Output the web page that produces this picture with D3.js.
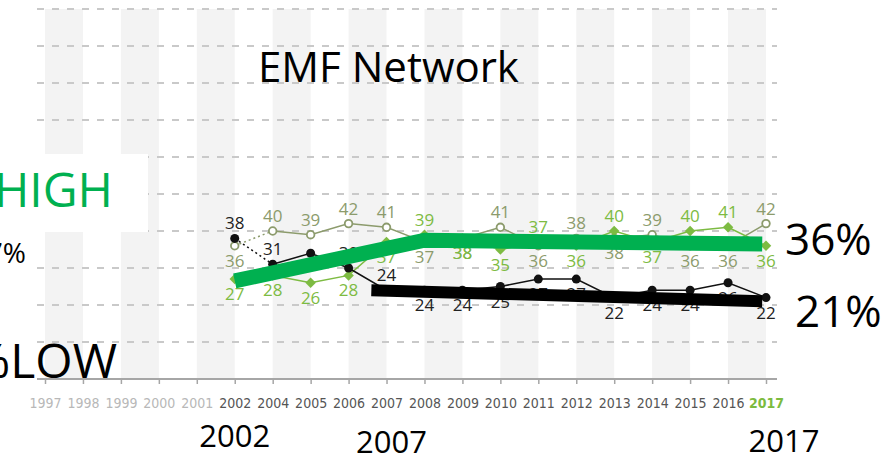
<!DOCTYPE html>
<html>
<head>
<meta charset="utf-8">
<script src="https://cdn.jsdelivr.net/npm/d3@7"></script>
<style>
  body { margin: 0; background: #fff; }
  svg { display: block; font-family: "Open Sans", sans-serif; }
</style>
</head>
<body>
<svg id="chart"></svg>
<script>
// x categories (2003 missing in the survey)
var years = ["1997","1998","1999","2000","2001","2002","2004","2005","2006","2007",
             "2008","2009","2010","2011","2012","2013","2014","2015","2016","2017"];
var surveyYears = years.slice(5);

// thin series, values in %
var openSeries    = [36,40,39,42,41,37,38,41,36,38,38,39,36,36,42];   // olive, open circles
var diamondSeries = [27,28,26,28,37,39,38,35,37,36,40,37,40,41,36];   // green, diamonds
var blackSeries   = [38,31,34,30,24,24,24,25,27,27,22,24,24,26,22];   // black, dots

// thick trend bars, position given as category index
var greenTrendPos = [5, 10, 18.9];
var greenTrendVal = [26.5, 37.5, 36.5];
var blackTrendPos = [8.6, 18.9];
var blackTrendVal = [24, 21];

var yTicks = [10,20,30,40,50,60,70,80,90,100];

var svgWidth = 886, svgHeight = 458;
var svg = d3.select("#chart").attr("width", svgWidth).attr("height", svgHeight);

var x = d3.scaleLinear().domain([0, years.length - 1]).range([45, 766]);
var y = d3.scaleLinear().domain([0, 100]).range([379, 9]);
var xYear = function(yr) { return x(years.indexOf(yr)); };

// alternating grey bands
svg.append("g").selectAll("rect")
   .data(d3.range(0, years.length - 1, 2))
   .join("rect")
   .attr("x", function(i) { return x(i); })
   .attr("y", y(100))
   .attr("width", function(i) { return x(i + 1) - x(i); })
   .attr("height", y(0) - y(100))
   .attr("fill", "#f3f3f3");

// dashed grid
svg.append("g").selectAll("line")
   .data(yTicks)
   .join("line")
   .attr("x1", 37).attr("x2", 777)
   .attr("y1", function(d) { return y(d); })
   .attr("y2", function(d) { return y(d); })
   .attr("stroke", "#c9c9c9")
   .attr("stroke-width", 2)
   .attr("stroke-dasharray", "7,8");

// x axis
var xAxis = d3.axisBottom(x)
   .tickValues(d3.range(years.length))
   .tickSize(5)
   .tickPadding(14)
   .tickFormat(function(i) { return years[i]; });

var axisG = svg.append("g")
   .attr("transform", "translate(0," + y(0) + ")")
   .call(xAxis);
axisG.select(".domain").attr("stroke", "#a6a6a6").attr("stroke-width", 2)
   .attr("d", "M37,0H777");
axisG.selectAll(".tick line").attr("stroke", "#a6a6a6").attr("stroke-width", 1.5);
axisG.selectAll(".tick text")
   .attr("font-family", "'DejaVu Sans Condensed', 'Liberation Sans Narrow', sans-serif")
   .attr("font-size", 14)
   .attr("fill", function(i) {
      if (i < 5) return "#b8b8b8";
      if (i == years.length - 1) return "#7cbb3f";
      return "#555";
   })
   .attr("font-weight", function(i) { return i == years.length - 1 ? "bold" : null; });

// build point records
var pts = surveyYears.map(function(yr, i) {
   return { year: yr, idx: years.indexOf(yr), a: openSeries[i], b: diamondSeries[i], c: blackSeries[i] };
});

var olive = "#8c9b6c", green = "#7dbb42", black = "#111";

function drawSeries(key, color, width) {
   var line = d3.line()
      .x(function(d) { return x(d.idx); })
      .y(function(d) { return y(d[key]); });
   // 2002 -> 2004 spans the missing year, drawn dotted
   svg.append("path").datum(pts.slice(0, 2))
      .attr("d", line).attr("fill", "none")
      .attr("stroke", color).attr("stroke-width", width)
      .attr("stroke-dasharray", "2,3");
   svg.append("path").datum(pts.slice(1))
      .attr("d", line).attr("fill", "none")
      .attr("stroke", color).attr("stroke-width", width);
}
drawSeries("a", olive, 1.5);
drawSeries("b", green, 1.5);
drawSeries("c", black, 1.5);

// markers
svg.append("g").selectAll("circle")
   .data(pts).join("circle")
   .attr("cx", function(d) { return x(d.idx); })
   .attr("cy", function(d) { return y(d.a); })
   .attr("r", 3.8)
   .attr("fill", "#fff").attr("stroke", olive).attr("stroke-width", 1.8);

svg.append("g").selectAll("path")
   .data(pts).join("path")
   .attr("transform", function(d) { return "translate(" + x(d.idx) + "," + y(d.b) + ")"; })
   .attr("d", d3.symbol().type(d3.symbolDiamond2).size(70))
   .attr("fill", green);

svg.append("g").selectAll("circle")
   .data(pts).join("circle")
   .attr("cx", function(d) { return x(d.idx); })
   .attr("cy", function(d) { return y(d.c); })
   .attr("r", 4.5)
   .attr("fill", black);

// value labels
function labelSeries(key, color, above, shown) {
   svg.append("g").selectAll("text")
      .data(pts.filter(shown || function() { return true; })).join("text")
      .attr("x", function(d) { return x(d.idx); })
      .attr("y", function(d) { return above(d) ? y(d[key]) - 9 : y(d[key]) + 21; })
      .attr("text-anchor", "middle")
      .attr("font-size", 17)
      .attr("fill", color)
      .text(function(d) { return d[key]; });
}
labelSeries("a", olive, function(d) { return d.a > d.b && d.a >= d.c; });
labelSeries("b", green, function(d) { return d.b > d.a; });
// the 2005 black value has no label in the source chart
labelSeries("c", "#222", function(d) { return +d.year < 2008; },
            function(d) { return d.year != "2005"; });

// thick trend bars
var trendLine = d3.line()
   .x(function(d) { return x(d[0]); })
   .y(function(d) { return y(d[1]); });

svg.append("path")
   .datum(d3.zip(greenTrendPos, greenTrendVal))
   .attr("d", trendLine).attr("fill", "none")
   .attr("stroke", "#00b050").attr("stroke-width", 15)
   .attr("stroke-linejoin", "round");

svg.append("path")
   .datum(d3.zip(blackTrendPos, blackTrendVal))
   .attr("d", trendLine).attr("fill", "none")
   .attr("stroke", "#000").attr("stroke-width", 12);

// annotations
svg.append("text").attr("x", 258).attr("y", 82)
   .attr("font-size", 42).attr("fill", "#000").text("EMF Network");

svg.append("rect").attr("x", 0).attr("y", 154).attr("width", 148).attr("height", 78).attr("fill", "#fff");
svg.append("text").attr("x", 113).attr("y", 207).attr("text-anchor", "end")
   .attr("font-size", 48).attr("fill", "#00b050").text("HIGH");
svg.append("text").attr("x", 26).attr("y", 263).attr("text-anchor", "end")
   .attr("font-size", 28).attr("fill", "#000").text("27%");
svg.append("text").attr("x", 117).attr("y", 378).attr("text-anchor", "end")
   .attr("font-size", 48).attr("fill", "#000").text("%LOW");

svg.append("text").attr("x", 785).attr("y", 255)
   .attr("font-size", 44).attr("fill", "#000").text("36%");
svg.append("text").attr("x", 795).attr("y", 327)
   .attr("font-size", 44).attr("fill", "#000").text("21%");

svg.append("text").attr("x", xYear("2002")).attr("y", 447).attr("text-anchor", "middle")
   .attr("font-size", 31).attr("fill", "#000").text("2002");
svg.append("text").attr("x", xYear("2007") + 5).attr("y", 453).attr("text-anchor", "middle")
   .attr("font-size", 31).attr("fill", "#000").text("2007");
svg.append("text").attr("x", xYear("2017") + 18).attr("y", 452).attr("text-anchor", "middle")
   .attr("font-size", 31).attr("fill", "#000").text("2017");
</script>
</body>
</html>
